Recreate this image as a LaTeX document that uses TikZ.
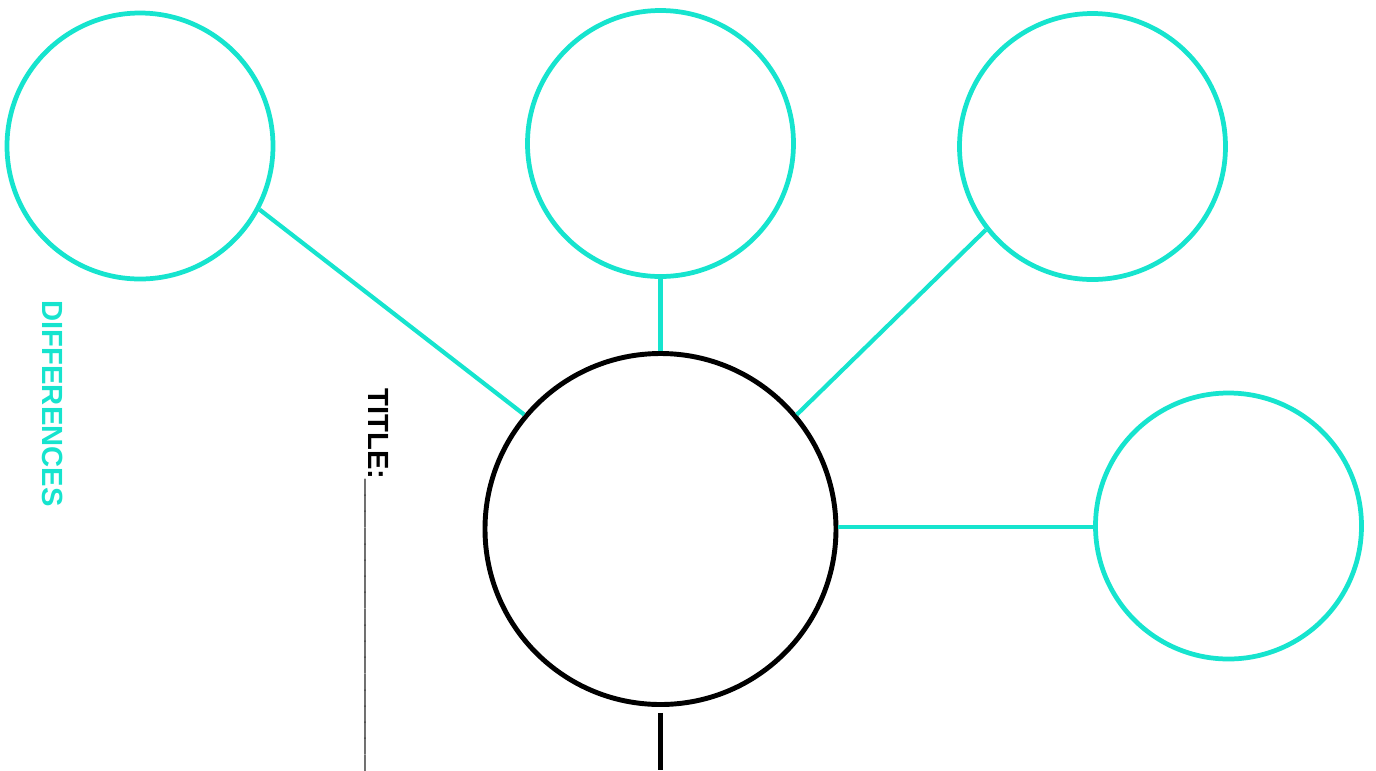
\documentclass[tikz,border=0pt]{standalone}
\usepackage{fontspec}
\setmainfont{Liberation Sans}
\definecolor{aqua}{RGB}{22,228,206}
\begin{document}
\begin{tikzpicture}[
  every node/.style = {font=\fontsize{8.3}{10}\selectfont\bfseries},
  bub/.style        = {circle, draw=aqua, line width=1.35pt, minimum size=2.66cm,
                        inner sep=0pt},
  hub/.style        = {circle, draw=black, line width=1.4pt, minimum size=3.51cm,
                        inner sep=0pt},
  link/.style       = {aqua, line width=1.2pt},
  lbl/.style        = {rotate=-90, anchor=base west, inner sep=0pt},
]
\useasboundingbox (0,0) rectangle (13.76,-7.70);

% ── CENTRE ────────────────────────────────────────────────────────────────────
\node[hub] (core) at (6.605, -5.29) {};
\coordinate (foot) at (6.605, -7.70);

% ── OUTER BUBBLES ─────────────────────────────────────────────────────────────
\node[bub] (bubA) at (1.40, -1.46) {};
\node[bub] (bubB) at (6.605, -1.435) {};
\node[bub] (bubC) at (10.925, -1.465) {};
\node[bub] (bubD) at (12.285, -5.26) {};

% ── CONNECTIONS ───────────────────────────────────────────────────────────────
\draw[link] (bubA.-28)   -- (core.140);
\draw[link] (bubB.south) -- (core.north);
\draw[link] (bubC.218)   -- (core.40);
\draw[link] ([yshift=0.2mm]core.east) -- ([yshift=0.2mm]core.east -| bubD.west);
\draw[line width=1.5pt] ([yshift=-0.6mm]core.south) -- (foot);

% ── LABELS ────────────────────────────────────────────────────────────────────
\node[lbl, aqua] (diff) at (0.42, -3.00) {DIFFERENCES};
\node[lbl] (title) at (3.68, -3.88)
  {TITLE:\_\_\_\_\_\_\_\_\_\_\_\_\_\_\_\_\_\_};

\end{tikzpicture}
\end{document}
